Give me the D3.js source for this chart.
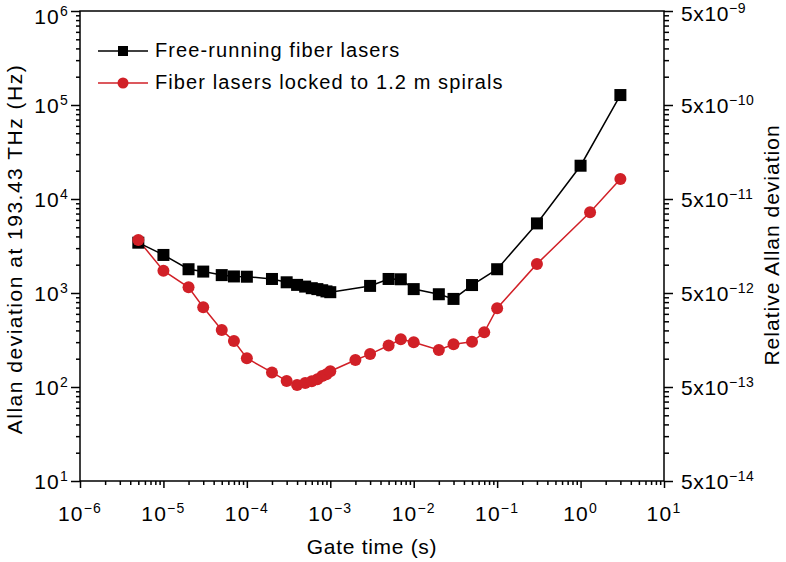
<!DOCTYPE html>
<html>
<head>
<meta charset="utf-8">
<script src="https://cdn.jsdelivr.net/npm/d3@7"></script>
<style>
  body { margin: 0; background: #fff; }
  svg { font-family: "Liberation Sans", Arial, sans-serif; }
</style>
</head>
<body>
<svg id="chart" width="786" height="562"></svg>
<script>
// Data
const freeX = [5e-6, 1e-5, 2e-5, 3e-5, 5e-5, 7e-5, 1e-4, 2e-4, 3e-4, 4e-4, 5e-4, 6e-4, 7e-4, 8e-4, 9e-4, 1e-3,
  3e-3, 5e-3, 7e-3, 1e-2, 2e-2, 3e-2, 5e-2, 0.1, 0.3, 1, 3];
const freeY = [3430, 2540, 1790, 1690, 1550, 1500, 1490, 1410, 1300, 1220, 1170, 1125, 1100, 1070, 1040, 1020,
  1190, 1410, 1400, 1100, 970, 865, 1215, 1790, 5500, 22600, 127600];

const lockedX = [5e-6, 1e-5, 2e-5, 3e-5, 5e-5, 7e-5, 1e-4, 2e-4, 3e-4, 4e-4, 5e-4, 6e-4, 7e-4, 8e-4, 9e-4, 1e-3,
  2e-3, 3e-3, 5e-3, 7e-3, 1e-2, 2e-2, 3e-2, 5e-2, 7e-2, 0.1, 0.3, 1.3, 3];
const lockedY = [3660, 1725, 1150, 705, 404, 308, 202, 143, 116, 105, 110, 115, 121, 131, 137, 147,
  194, 224, 276, 322, 299, 248, 285, 303, 382, 688, 2040, 7220, 16300];

const seriesNames = ["Free-running fiber lasers", "Fiber lasers locked to 1.2 m spirals"];

// Axis ticks
const xExps = [-6, -5, -4, -3, -2, -1, 0, 1];
const yExps = [1, 2, 3, 4, 5, 6];
const rightExps = [-14, -13, -12, -11, -10, -9];   // 5x10^n
const rightMinorK = [1, 1.5, 2, 2.5, 3, 3.5, 4, 4.5];

const red = "#d12027";

const svg = d3.select("#chart");
const mLeft = 80, mRight = 664, mTop = 11, mBottom = 481;

const x = d3.scaleLog().domain([1e-6, 10]).range([mLeft, mRight]);
const y = d3.scaleLog().domain([10, 1e6]).range([mBottom, mTop]);
const yRel = d3.scaleLog().domain([5e-14, 5e-9]).range([mBottom, mTop]);

// minor ticks
const xMinor = [];
xExps.slice(0, -1).forEach(e => { for (let k = 2; k < 10; k++) xMinor.push(k * Math.pow(10, e)); });
const yMinor = [];
yExps.slice(0, -1).forEach(e => { for (let k = 2; k < 10; k++) yMinor.push(k * Math.pow(10, e)); });
const rMinor = [];
rightExps.slice(0, -1).forEach(e => { rightMinorK.forEach(k => rMinor.push(k * Math.pow(10, e + 1))); });

function styleAxis(g) {
  g.select(".domain").remove();
  g.selectAll("line").attr("stroke", "#000").attr("stroke-width", 1.5);
}

// bottom axis
svg.append("g").attr("transform", `translate(0,${mBottom})`)
  .call(d3.axisBottom(x).tickValues(xMinor).tickSize(4).tickFormat(""))
  .call(styleAxis);
svg.append("g").attr("transform", `translate(0,${mBottom})`)
  .call(d3.axisBottom(x).tickValues(xExps.map(e => Math.pow(10, e))).tickSize(7).tickFormat(""))
  .call(styleAxis);

// left axis
svg.append("g").attr("transform", `translate(${mLeft},0)`)
  .call(d3.axisLeft(y).tickValues(yMinor).tickSize(4).tickFormat(""))
  .call(styleAxis);
svg.append("g").attr("transform", `translate(${mLeft},0)`)
  .call(d3.axisLeft(y).tickValues(yExps.map(e => Math.pow(10, e))).tickSize(9).tickFormat(""))
  .call(styleAxis);

// right axis
svg.append("g").attr("transform", `translate(${mRight},0)`)
  .call(d3.axisRight(yRel).tickValues(rMinor).tickSize(5).tickFormat(""))
  .call(styleAxis);
svg.append("g").attr("transform", `translate(${mRight},0)`)
  .call(d3.axisRight(yRel).tickValues(rightExps.map(e => 5 * Math.pow(10, e))).tickSize(9).tickFormat(""))
  .call(styleAxis);

// frame (left, bottom, right, top)
svg.append("path")
  .attr("d", `M${mLeft},${mTop}V${mBottom}H${mRight}V${mTop}Z`)
  .attr("fill", "none").attr("stroke", "#000").attr("stroke-width", 1.5);

// tick labels
function powLabel(g, base, exp) {
  g.append("tspan").text(base);
  g.append("tspan").attr("dy", -8).attr("font-size", 14)
    .text(String(exp).replace("-", "\u2212"));
}

xExps.forEach(e => {
  const t = svg.append("text")
    .attr("x", x(Math.pow(10, e))).attr("y", 521)
    .attr("text-anchor", "middle").attr("font-size", 21).attr("letter-spacing", 1.2);
  powLabel(t, "10", e);
});

yExps.forEach(e => {
  const t = svg.append("text")
    .attr("x", 69).attr("y", Math.max(y(Math.pow(10, e)) + 8, 24))
    .attr("text-anchor", "end").attr("font-size", 21).attr("letter-spacing", 1.2);
  powLabel(t, "10", e);
});

rightExps.forEach(e => {
  const t = svg.append("text")
    .attr("x", 681).attr("y", Math.max(yRel(5 * Math.pow(10, e)) + 8, 21))
    .attr("font-size", 21).attr("letter-spacing", 0.6);
  powLabel(t, "5x10", e);
});

// axis titles
svg.append("text")
  .attr("x", (mLeft + mRight) / 2).attr("y", 554)
  .attr("text-anchor", "middle").attr("font-size", 21).attr("letter-spacing", 0.7)
  .text("Gate time (s)");

svg.append("text")
  .attr("transform", "translate(22,249) rotate(-90)")
  .attr("text-anchor", "middle").attr("font-size", 21).attr("letter-spacing", 1.5)
  .text("Allan deviation at 193.43 THz (Hz)");

svg.append("text")
  .attr("transform", "translate(779,245) rotate(-90)")
  .attr("text-anchor", "middle").attr("font-size", 21).attr("letter-spacing", 1)
  .text("Relative Allan deviation");

// series
const line = d3.line().x(d => x(d[0])).y(d => y(d[1]));
const freeData = d3.zip(freeX, freeY);
const lockedData = d3.zip(lockedX, lockedY);

svg.append("path").datum(freeData)
  .attr("d", line).attr("fill", "none").attr("stroke", "#000").attr("stroke-width", 1.5);
svg.append("path").datum(lockedData)
  .attr("d", line).attr("fill", "none").attr("stroke", red).attr("stroke-width", 1.5);

svg.append("g").selectAll("rect")
  .data(freeData)
  .join("rect")
    .attr("x", d => x(d[0]) - 6)
    .attr("y", d => y(d[1]) - 6)
    .attr("width", 12).attr("height", 12)
    .attr("fill", "#000");

svg.append("g").selectAll("circle")
  .data(lockedData)
  .join("circle")
    .attr("cx", d => x(d[0]))
    .attr("cy", d => y(d[1]))
    .attr("r", 6)
    .attr("fill", red);

// legend
const legend = svg.append("g");
const rows = [51, 83];
seriesNames.forEach((name, i) => {
  const col = i === 0 ? "#000" : red;
  legend.append("line")
    .attr("x1", 98).attr("x2", 148).attr("y1", rows[i]).attr("y2", rows[i])
    .attr("stroke", col).attr("stroke-width", 1.5);
  if (i === 0)
    legend.append("rect").attr("x", 118).attr("y", rows[i] - 5).attr("width", 10).attr("height", 10).attr("fill", col);
  else
    legend.append("circle").attr("cx", 123).attr("cy", rows[i]).attr("r", 5.5).attr("fill", col);
  legend.append("text")
    .attr("x", 155).attr("y", rows[i] + 6)
    .attr("font-size", 20).attr("letter-spacing", 1.1)
    .text(name);
});
</script>
</body>
</html>
